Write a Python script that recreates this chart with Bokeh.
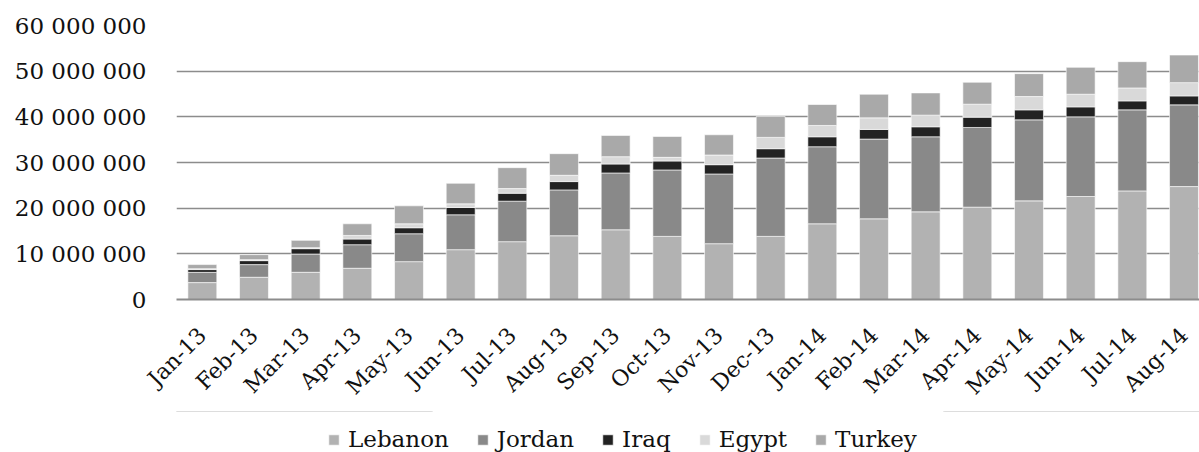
from math import pi
from bokeh.plotting import figure
from bokeh.layouts import column
from bokeh.models import ColumnDataSource, Legend, LegendItem, FixedTicker, Range1d
from bokeh.embed import file_html
from bokeh.resources import INLINE

months = ["Jan-13", "Feb-13", "Mar-13", "Apr-13", "May-13", "Jun-13", "Jul-13", "Aug-13",
          "Sep-13", "Oct-13", "Nov-13", "Dec-13", "Jan-14", "Feb-14", "Mar-14", "Apr-14",
          "May-14", "Jun-14", "Jul-14", "Aug-14"]
series = ["Lebanon", "Jordan", "Iraq", "Egypt", "Turkey"]
lebanon = [3700000, 4870000, 5960000, 6840000, 8290000, 10910000, 12660000, 13960000, 15270000, 13820000,
           12220000, 13820000, 16580000, 17670000, 19200000, 20220000, 21600000, 22550000, 23780000, 24730000]
jordan = [2250000, 2770000, 4000000, 5160000, 6110000, 7640000, 8870000, 10040000, 12440000, 14550000,
          15270000, 17160000, 16870000, 17460000, 16430000, 17450000, 17740000, 17450000, 17750000, 17890000]
iraq = [600000, 870000, 1170000, 1240000, 1310000, 1600000, 1740000, 1820000, 1960000, 1960000,
        2030000, 2040000, 2180000, 2110000, 2190000, 2260000, 2190000, 2180000, 1960000, 1960000]
egypt = [200000, 220000, 220000, 790000, 870000, 800000, 1020000, 1380000, 1600000, 800000,
         2120000, 2480000, 2480000, 2540000, 2550000, 2840000, 2910000, 2770000, 2840000, 2910000]
turkey = [900000, 1090000, 1600000, 2550000, 3930000, 4500000, 4580000, 4730000, 4660000, 4580000,
          4430000, 4580000, 4590000, 5170000, 4870000, 4800000, 5020000, 5890000, 5750000, 6040000]
y_ticks = [0, 10000000, 20000000, 30000000, 40000000, 50000000, 60000000]
y_tick_labels = ["0", "10 000 000", "20 000 000", "30 000 000", "40 000 000", "50 000 000", "60 000 000"]
colors = ["#b2b2b2", "#898989", "#222222", "#d9d9d9", "#a9a9a9"]

idx = list(range(len(months)))
source = ColumnDataSource(dict(x=idx, Lebanon=lebanon, Jordan=jordan, Iraq=iraq, Egypt=egypt, Turkey=turkey))

FONT = "DejaVu Serif"

p = figure(width=1199, height=411, output_backend="svg", toolbar_location=None,
           x_range=Range1d(-0.5, 19.3), y_range=Range1d(0, 60000000),
           min_border_left=176, min_border_right=0, min_border_top=25, min_border_bottom=0)
p.outline_line_color = None
p.background_fill_color = "white"

renderers = p.vbar_stack(series, x="x", width=0.56, source=source, color=colors,
                         line_color="white", line_alpha=0.6, line_width=1)

p.xgrid.grid_line_color = None
p.ygrid.grid_line_color = "#8c8c8c"
p.ygrid.grid_line_width = 1.6
p.ygrid.ticker = FixedTicker(ticks=y_ticks)

p.yaxis.ticker = FixedTicker(ticks=y_ticks)
p.yaxis.major_label_overrides = {t: l for t, l in zip(y_ticks, y_tick_labels)}
p.yaxis.axis_line_color = None
p.yaxis.major_tick_line_color = None
p.yaxis.minor_tick_line_color = None
p.yaxis.major_label_text_font = FONT
p.yaxis.major_label_text_font_size = "23px"
p.yaxis.major_label_text_color = "#111111"
p.yaxis.major_label_standoff = 24

p.xaxis.ticker = FixedTicker(ticks=idx)
p.xaxis.major_label_overrides = {i: m for i, m in zip(idx, months)}
p.xaxis.axis_line_color = "#8c8c8c"
p.xaxis.axis_line_width = 2
p.xaxis.major_tick_line_color = None
p.xaxis.minor_tick_line_color = None
p.xaxis.major_label_orientation = pi / 4
p.xaxis.major_label_text_font = FONT
p.xaxis.major_label_text_font_size = "22px"
p.xaxis.major_label_text_color = "#111111"
p.xaxis.major_label_standoff = 26

# separate strip below the chart that holds the legend (its bars lie outside its view)
lg = figure(width=1199, height=41, output_backend="svg", toolbar_location=None,
            x_range=Range1d(0, 1), y_range=Range1d(-2, -1),
            x_axis_location=None, y_axis_location=None,
            min_border_left=0, min_border_right=0, min_border_top=0, min_border_bottom=0)
lg.outline_line_color = None
lg.xgrid.grid_line_color = None
lg.ygrid.grid_line_color = None
legend_renderers = [lg.vbar(x="x", top=s, width=0.5, source=source, fill_color=c,
                            line_color="white", line_alpha=0.6) for s, c in zip(series, colors)]
legend = Legend(items=[LegendItem(label=s, renderers=[r]) for s, r in zip(series, legend_renderers)],
                orientation="horizontal", location=(151, 0), border_line_color=None,
                background_fill_alpha=0, label_text_font=FONT, label_text_font_size="23px",
                label_text_color="#111111", glyph_width=13, glyph_height=13, label_standoff=8,
                spacing=27, padding=0, margin=0, label_height=20)
lg.add_layout(legend, "center")

layout = column(p, lg)
open("out.html", "w").write(file_html(layout, INLINE))
